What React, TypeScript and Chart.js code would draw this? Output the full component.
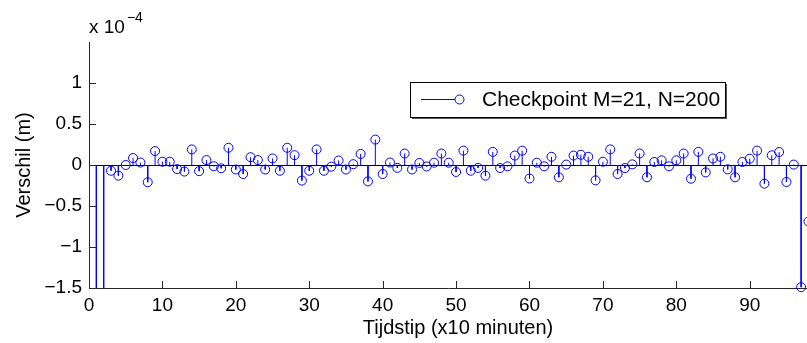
import React, { useEffect, useRef } from 'react';
import { Chart, registerables } from 'chart.js';

Chart.register(...registerables);

// Tijdstip index (x10 minuten)
const tijdstip = [
  1, 2, 3, 4, 5, 6, 7, 8, 9, 10, 11, 12, 13, 14, 15, 16, 17, 18, 19, 20,
  21, 22, 23, 24, 25, 26, 27, 28, 29, 30, 31, 32, 33, 34, 35, 36, 37, 38, 39, 40,
  41, 42, 43, 44, 45, 46, 47, 48, 49, 50, 51, 52, 53, 54, 55, 56, 57, 58, 59, 60,
  61, 62, 63, 64, 65, 66, 67, 68, 69, 70, 71, 72, 73, 74, 75, 76, 77, 78, 79, 80,
  81, 82, 83, 84, 85, 86, 87, 88, 89, 90, 91, 92, 93, 94, 95, 96, 97, 98,
];

// Verschil (m), in units of 1e-4
const verschil = [
  -2.5, -2.5, -0.07, -0.13, 0.0, 0.085, 0.03, -0.21, 0.17, 0.04,
  0.04, -0.05, -0.08, 0.19, -0.075, 0.06, -0.015, -0.04, 0.21, -0.055,
  -0.11, 0.095, 0.06, -0.055, 0.08, -0.07, 0.21, 0.12, -0.19, -0.07,
  0.19, -0.07, -0.02, 0.055, -0.055, 0.01, 0.135, -0.2, 0.31, -0.11,
  0.03, -0.035, 0.14, -0.055, 0.025, -0.018, 0.028, 0.14, 0.028, -0.085,
  0.175, -0.07, -0.035, -0.13, 0.16, -0.037, -0.016, 0.115, 0.175, -0.165,
  0.028, -0.016, 0.1, -0.15, 0.005, 0.115, 0.125, 0.1, -0.187, 0.04,
  0.19, -0.11, -0.037, 0.008, 0.14, -0.15, 0.037, 0.057, -0.016, 0.057,
  0.14, -0.167, 0.16, -0.09, 0.08, 0.1, -0.053, -0.15, 0.037, 0.077,
  0.175, -0.228, 0.118, 0.159, -0.207, 0.005, -1.49, -0.69,
];

const xTicks = [0, 10, 20, 30, 40, 50, 60, 70, 80, 90];
const yTicks = [-1.5, -1, -0.5, 0, 0.5, 1];

const seriesLabel = 'Checkpoint M=21, N=200';
const xLabel = 'Tijdstip (x10 minuten)';
const yLabel = 'Verschil (m)';
const exponentBase = 'x 10';
const exponentPower = '\u22124';

const FONT = '"Liberation Sans", Arial, Helvetica, sans-serif';
const BLUE = '#0000ff';
const AXIS = '#262626';

const fmt = (v: number) => (v < 0 ? '\u2212' + String(Math.abs(v)) : String(v));

const decorPlugin = {
  id: 'decor',
  afterDraw(chart: any) {
    const { ctx, chartArea } = chart;
    const xs = chart.scales.x;
    const ys = chart.scales.y;
    ctx.save();
    // inward tick marks
    ctx.strokeStyle = AXIS;
    ctx.lineWidth = 1;
    ctx.beginPath();
    xTicks.forEach((v) => {
      if (v === 0) return;
      const px = Math.round(xs.getPixelForValue(v)) + 0.5;
      ctx.moveTo(px, chartArea.bottom);
      ctx.lineTo(px, chartArea.bottom - 7);
    });
    yTicks.forEach((v) => {
      if (v === -1.5) return;
      const py = Math.round(ys.getPixelForValue(v)) + 0.5;
      ctx.moveTo(chartArea.left, py);
      ctx.lineTo(chartArea.left + 7, py);
    });
    ctx.stroke();

    // exponent label
    ctx.fillStyle = '#000';
    ctx.textBaseline = 'alphabetic';
    ctx.textAlign = 'left';
    ctx.font = `19px ${FONT}`;
    ctx.fillText(exponentBase, chartArea.left, 33);
    const w = ctx.measureText(exponentBase).width;
    ctx.font = `14px ${FONT}`;
    ctx.fillText(exponentPower, chartArea.left + w + 2, 22);

    // x axis title
    ctx.font = `20px ${FONT}`;
    ctx.textAlign = 'center';
    ctx.textBaseline = 'middle';
    ctx.fillText(xLabel, 458, 328);

    // legend
    const ds = chart.data.datasets[0];
    const bx = 410, by = 82, bw = 315, bh = 35;
    ctx.fillStyle = '#555';
    ctx.fillRect(bx + 2, by + 2, bw, bh);
    ctx.fillStyle = '#fff';
    ctx.fillRect(bx, by, bw, bh);
    ctx.strokeStyle = '#000';
    ctx.lineWidth = 1;
    ctx.strokeRect(bx + 0.5, by + 0.5, bw, bh);
    const ly = by + 17.5;
    ctx.strokeStyle = BLUE;
    ctx.beginPath();
    ctx.moveTo(421, ly);
    ctx.lineTo(455, ly);
    ctx.stroke();
    ctx.beginPath();
    ctx.arc(459.5, ly, 4.5, 0, Math.PI * 2);
    ctx.stroke();
    ctx.fillStyle = '#000';
    ctx.font = `21px ${FONT}`;
    ctx.textAlign = 'left';
    ctx.textBaseline = 'alphabetic';
    ctx.fillText(ds.label, 482, 106);
    ctx.restore();
  },
};

export default function App() {
  const ref = useRef<HTMLCanvasElement | null>(null);

  useEffect(() => {
    document.body.style.margin = '0';
    document.body.style.overflow = 'hidden';
    const canvas = ref.current;
    if (!canvas) return;

    const markers = tijdstip.map((x, i) => ({ x, y: verschil[i] }));
    const stems: { x: number; y: number | null }[] = [];
    tijdstip.forEach((x, i) => {
      stems.push({ x, y: 0 });
      stems.push({ x, y: verschil[i] });
      stems.push({ x, y: null });
    });

    const chart = new Chart(canvas, {
      type: 'line',
      data: {
        datasets: [
          {
            label: seriesLabel,
            data: markers,
            showLine: false,
            pointRadius: 4.5,
            pointBorderWidth: 1,
            borderColor: BLUE,
            pointBorderColor: BLUE,
            backgroundColor: 'rgba(0,0,0,0)',
            pointBackgroundColor: 'rgba(0,0,0,0)',
            clip: false as any,
          },
          {
            label: 'stems',
            data: stems as any,
            borderColor: BLUE,
            borderWidth: 1,
            pointRadius: 0,
            spanGaps: false,
            tension: 0,
            clip: 0 as any,
          },
        ],
      },
      options: {
        responsive: false,
        animation: false,
        events: [],
        layout: { autoPadding: false, padding: { top: 42, left: 0, right: 0, bottom: 0 } },
        plugins: {
          legend: { display: false },
          tooltip: { enabled: false },
          title: { display: false },
        },
        scales: {
          x: {
            type: 'linear',
            min: 0,
            max: 97.8,
            afterBuildTicks: (s: any) => {
              s.ticks = xTicks.map((v) => ({ value: v }));
            },
            afterFit: (s: any) => {
              s.height = 55;
            },
            ticks: {
              color: '#000',
              font: { family: FONT, size: 19 },
              padding: 6,
              maxRotation: 0,
              autoSkip: false,
              callback: (v: any) => fmt(Number(v)),
            },
            grid: {
              display: true,
              drawOnChartArea: false,
              drawTicks: false,
              color: 'rgba(0,0,0,0)',
            },
            border: { display: true, color: AXIS, width: 1 },
          },
          y: {
            type: 'linear',
            min: -1.5,
            max: 1.5,
            afterBuildTicks: (s: any) => {
              s.ticks = yTicks.map((v) => ({ value: v }));
            },
            afterFit: (s: any) => {
              s.width = 89;
            },
            ticks: {
              color: '#000',
              font: { family: FONT, size: 19 },
              padding: 7,
              autoSkip: false,
              callback: (v: any) => fmt(Number(v)),
            },
            grid: {
              display: true,
              drawOnChartArea: true,
              drawTicks: false,
              lineWidth: 1,
              color: (c: any) => (c.tick && c.tick.value === 0 ? '#000' : 'rgba(0,0,0,0)'),
            },
            border: { display: true, color: AXIS, width: 1 },
            title: {
              display: true,
              text: yLabel,
              color: '#000',
              font: { family: FONT, size: 20 },
              padding: { top: 12, bottom: 0 },
            },
          },
        },
      },
      plugins: [decorPlugin],
    });

    return () => chart.destroy();
  }, []);

  return (
    <div style={{ width: 807, height: 343, position: 'relative', background: '#fff' }}>
      <canvas ref={ref} width={807} height={343} style={{ display: 'block' }} />
    </div>
  );
}
